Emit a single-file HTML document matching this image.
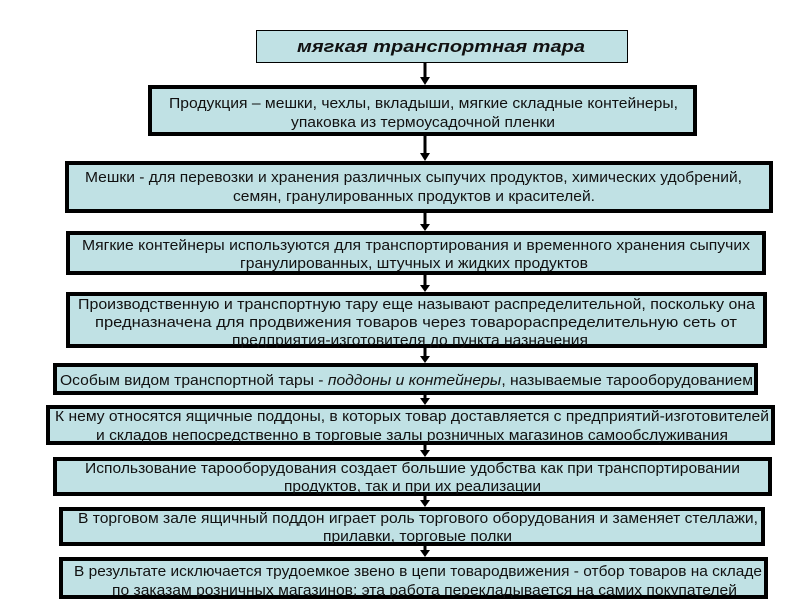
<!DOCTYPE html>
<html><head><meta charset="utf-8"><style>html,body{margin:0;padding:0;background:#fff}svg{display:block}</style></head>
<body>
<svg width="800" height="600" viewBox="0 0 800 600" xmlns="http://www.w3.org/2000/svg" font-family="Liberation Sans, sans-serif" font-size="15" fill="#111">
<g fill="#c0e1e4" stroke="#000">
<rect x="256.5" y="30.5" width="371" height="32" stroke-width="1"/>
<rect x="150" y="87" width="545" height="47" stroke-width="4"/>
<rect x="67" y="163" width="704" height="48" stroke-width="4"/>
<rect x="68" y="233" width="696" height="40" stroke-width="4"/>
<rect x="68" y="294" width="697" height="52" stroke-width="4"/>
<rect x="55" y="365" width="701" height="28" stroke-width="4"/>
<rect x="48" y="407" width="725" height="36" stroke-width="4"/>
<rect x="55" y="459" width="715" height="35" stroke-width="4"/>
<rect x="61" y="509" width="702" height="35" stroke-width="4"/>
<rect x="61" y="559" width="705" height="38" stroke-width="4"/>
</g>
<g stroke="#000" stroke-width="3">
<line x1="425" y1="62" x2="425" y2="78"/>
<line x1="425" y1="136" x2="425" y2="154"/>
<line x1="425" y1="213" x2="425" y2="226"/>
<line x1="425" y1="275" x2="425" y2="287"/>
<line x1="425" y1="348" x2="425" y2="358"/>
<line x1="425" y1="395" x2="425" y2="400"/>
<line x1="425" y1="445" x2="425" y2="452"/>
<line x1="425" y1="496" x2="425" y2="502"/>
<line x1="425" y1="546" x2="425" y2="552"/>
</g>
<g fill="#000">
<polygon points="420,77 430,77 425,85"/>
<polygon points="420,153 430,153 425,161"/>
<polygon points="420,224 430,224 425,231"/>
<polygon points="420,285 430,285 425,292"/>
<polygon points="420,356 430,356 425,363"/>
<polygon points="420,398 430,398 425,405"/>
<polygon points="420,450 430,450 425,457"/>
<polygon points="420,500 430,500 425,507"/>
<polygon points="420,550 430,550 425,557"/>
</g>
<g>
<text x="297" y="52" font-weight="bold" font-style="italic" font-size="17" textLength="288" lengthAdjust="spacingAndGlyphs">мягкая транспортная тара</text>
<text x="169" y="108" textLength="509" lengthAdjust="spacingAndGlyphs">Продукция – мешки, чехлы, вкладыши, мягкие складные контейнеры,</text>
<text x="291" y="127" textLength="264" lengthAdjust="spacingAndGlyphs">упаковка из термоусадочной пленки</text>
<text x="85" y="182" textLength="657" lengthAdjust="spacingAndGlyphs">Мешки - для перевозки и хранения различных сыпучих продуктов, химических удобрений,</text>
<text x="233" y="201" textLength="362" lengthAdjust="spacingAndGlyphs">семян, гранулированных продуктов и красителей.</text>
<text x="82" y="250" textLength="668" lengthAdjust="spacingAndGlyphs">Мягкие контейнеры используются для транспортирования и временного хранения сыпучих</text>
<text x="240" y="268" textLength="348" lengthAdjust="spacingAndGlyphs">гранулированных, штучных и жидких продуктов</text>
<text x="78" y="309" textLength="677" lengthAdjust="spacingAndGlyphs">Производственную и транспортную тару еще называют распределительной, поскольку она</text>
<text x="95" y="327" textLength="642" lengthAdjust="spacingAndGlyphs">предназначена для продвижения товаров через товарораспределительную сеть от</text>
<text x="232" y="345" textLength="356" lengthAdjust="spacingAndGlyphs">предприятия-изготовителя до пункта назначения</text>
<text x="60" y="385" textLength="693" lengthAdjust="spacingAndGlyphs">Особым видом транспортной тары - <tspan font-style="italic">поддоны и контейнеры</tspan>, называемые тарооборудованием</text>
<text x="55" y="421" textLength="714" lengthAdjust="spacingAndGlyphs">К нему относятся ящичные поддоны, в которых товар доставляется с предприятий-изготовителей</text>
<text x="96" y="440" textLength="632" lengthAdjust="spacingAndGlyphs">и складов непосредственно в торговые залы розничных магазинов самообслуживания</text>
<text x="85" y="473" textLength="655" lengthAdjust="spacingAndGlyphs">Использование тарооборудования создает большие удобства как при транспортировании</text>
<text x="284" y="491" textLength="257" lengthAdjust="spacingAndGlyphs">продуктов, так и при их реализации</text>
<text x="78" y="523" textLength="680" lengthAdjust="spacingAndGlyphs">В торговом зале ящичный поддон играет роль торгового оборудования и заменяет стеллажи,</text>
<text x="323" y="541" textLength="189" lengthAdjust="spacingAndGlyphs">прилавки, торговые полки</text>
<text x="74" y="576" textLength="688" lengthAdjust="spacingAndGlyphs">В результате  исключается трудоемкое звено в цепи товародвижения - отбор товаров на складе</text>
<text x="112" y="595" textLength="625" lengthAdjust="spacingAndGlyphs">по заказам розничных магазинов; эта работа перекладывается на самих покупателей</text>
</g>
</svg>
</body></html>
